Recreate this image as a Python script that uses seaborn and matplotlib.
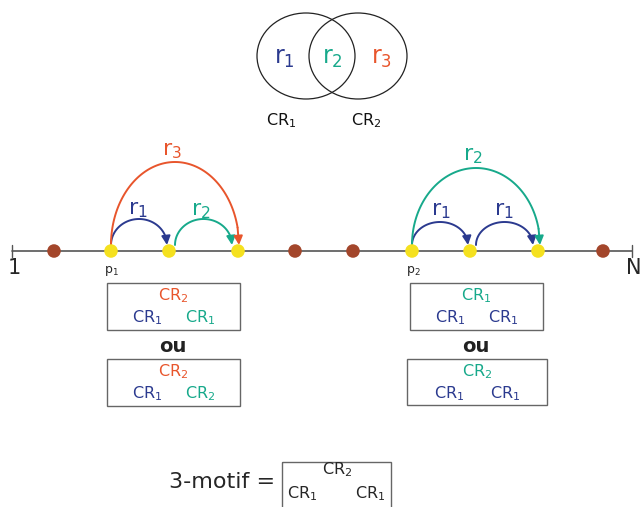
import matplotlib
matplotlib.use('Agg')
import matplotlib.pyplot as plt
import numpy as np
import pandas as pd
import seaborn as sns
from matplotlib.patches import Ellipse, Rectangle

# ============================================================
# 3-motif diagram: Venn of codon regions + arcs on the sequence
# ============================================================

BLUE = "#2b3a8f"
GREEN = "#17a98b"
ORANGE = "#e8552c"
BROWN = "#a3462b"
YELLOW = "#f5e11f"
GREY = "#555555"

# sequence line (pixel coords)
LINE_Y = 251
LINE_X = [12, 632]
OTHER_POS = [54, 295, 353, 603]
MOTIF_POS = [111, 169, 238, 412, 470, 538]

# arcs
ARC_START = [111, 175, 111, 412, 476, 412]
ARC_END = [167, 232, 239, 468, 533, 540]
ARC_HEIGHT = [26, 26, 83, 23, 23, 77]
ARC_COLOR = [BLUE, GREEN, ORANGE, BLUE, BLUE, GREEN]
ARC_LABEL = ["r$_1$", "r$_2$", "r$_3$", "r$_1$", "r$_1$", "r$_2$"]
ARC_LABEL_XY = [(138, 210), (201, 211), (172, 151), (441, 211), (504, 211), (473, 156)]

# venn
VENN_CENTERS = [(306, 56), (358, 56)]
VENN_TEXT = ["r$_1$", "r$_2$", "r$_3$"]
VENN_TEXT_X = [284, 332, 382]
VENN_COLOR = [BLUE, GREEN, ORANGE]

# boxes: top label, bottom-left, bottom-right
BOX_XY = [(107, 283, 133, 47), (107, 359, 133, 47),
          (410, 283, 133, 47), (407, 359, 140, 46)]
BOX_TOP = [("CR$_2$", ORANGE), ("CR$_2$", ORANGE), ("CR$_1$", GREEN), ("CR$_2$", GREEN)]
BOX_LEFT = [("CR$_1$", BLUE), ("CR$_1$", BLUE), ("CR$_1$", BLUE), ("CR$_1$", BLUE)]
BOX_RIGHT = [("CR$_1$", GREEN), ("CR$_2$", GREEN), ("CR$_1$", BLUE), ("CR$_1$", BLUE)]

sns.set_theme(style="white")
plt.rcParams['font.family'] = ['DejaVu Sans']
plt.rcParams['mathtext.default'] = 'regular'

fig = plt.figure(figsize=(6.43, 5.07), dpi=100)
ax = fig.add_axes([0, 0, 1, 1])

# --- venn ---
for cx, cy in VENN_CENTERS:
    ax.add_patch(Ellipse((cx, cy), 98, 86, fill=False, ec="#222222", lw=0.9))
for t, x, c in zip(VENN_TEXT, VENN_TEXT_X, VENN_COLOR):
    ax.text(x, 58, t, color=c, fontsize=17, ha="center", va="center")
ax.text(281, 121, "CR$_1$", fontsize=11.5, ha="center", va="center", color="#111111")
ax.text(366, 121, "CR$_2$", fontsize=11.5, ha="center", va="center", color="#111111")

# --- sequence line ---
ax.plot(LINE_X, [LINE_Y, LINE_Y], color=GREY, lw=1.2, zorder=1)
for x in LINE_X:
    ax.plot([x, x], [LINE_Y - 6, LINE_Y + 6], color=GREY, lw=1.0)
ax.text(14, 268, "1", fontsize=15, ha="center", va="center")
ax.text(634, 268, "N", fontsize=15, ha="center", va="center")
ax.text(111, 271, "p$_1$", fontsize=9, ha="center", va="center")
ax.text(413, 271, "p$_2$", fontsize=9, ha="center", va="center")

nodes = pd.DataFrame({
    "x": OTHER_POS + MOTIF_POS,
    "y": [LINE_Y] * (len(OTHER_POS) + len(MOTIF_POS)),
    "kind": ["other"] * len(OTHER_POS) + ["motif"] * len(MOTIF_POS),
})
sns.scatterplot(data=nodes, x="x", y="y", hue="kind",
                palette={"other": BROWN, "motif": YELLOW},
                s=95, linewidth=0, legend=False, ax=ax, zorder=3)
ax.set_xlim(0, 643)
ax.set_ylim(507, 0)
ax.axis("off")

# --- arcs ---
base = LINE_Y - 6
theta = np.linspace(np.pi, 0, 120)
for x0, x1, h, c in zip(ARC_START, ARC_END, ARC_HEIGHT, ARC_COLOR):
    xc = (x0 + x1) / 2
    a = (x1 - x0) / 2
    xs = xc + a * np.cos(theta)
    ys = base - h * np.sin(theta)
    ax.plot(xs[:-8], ys[:-8], color=c, lw=1.4, zorder=2)
    ax.annotate("", xy=(xs[-1], ys[-1]), xytext=(xs[-9], ys[-9]),
                arrowprops=dict(arrowstyle="-|>", color=c, lw=1.4,
                                mutation_scale=13, shrinkA=0, shrinkB=0),
                zorder=2)
for t, (x, y), c in zip(ARC_LABEL, ARC_LABEL_XY, ARC_COLOR):
    ax.text(x, y, t, color=c, fontsize=16, ha="center", va="center")

# --- boxes ---
for (bx, by, bw, bh), top, left, right in zip(BOX_XY, BOX_TOP, BOX_LEFT, BOX_RIGHT):
    ax.add_patch(Rectangle((bx, by), bw, bh, fill=False, ec="#666666", lw=1.0))
    cx = bx + bw / 2
    ax.text(cx, by + 13, top[0], color=top[1], fontsize=11.5, ha="center", va="center")
    ax.text(bx + bw * 0.3, by + 35, left[0], color=left[1], fontsize=11.5, ha="center", va="center")
    ax.text(bx + bw * 0.7, by + 35, right[0], color=right[1], fontsize=11.5, ha="center", va="center")
ax.text(173, 346, "ou", fontsize=14, weight="bold", ha="center", va="center", color="#222222")
ax.text(476, 346, "ou", fontsize=14, weight="bold", ha="center", va="center", color="#222222")

# --- 3-motif ---
ax.text(222, 482, "3-motif =", fontsize=16, ha="center", va="center")
ax.add_patch(Rectangle((282, 462), 109, 60, fill=False, ec="#666666", lw=1.0, clip_on=True))
ax.text(337, 470, "CR$_2$", fontsize=11.5, ha="center", va="center")
ax.text(302, 494, "CR$_1$", fontsize=11.5, ha="center", va="center")
ax.text(370, 494, "CR$_1$", fontsize=11.5, ha="center", va="center")

plt.savefig("out.png", dpi=100)
plt.close()
